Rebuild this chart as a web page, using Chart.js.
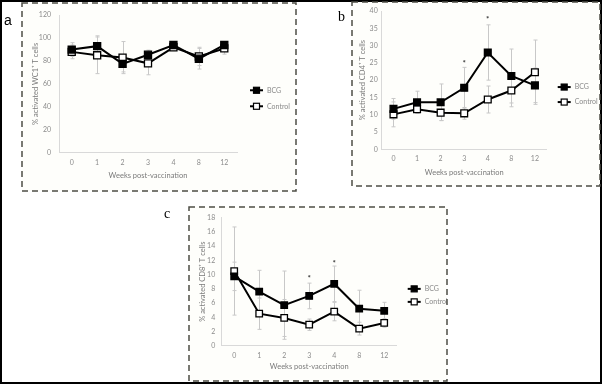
<!DOCTYPE html>
<html><head><meta charset="utf-8">
<script src="https://cdn.jsdelivr.net/npm/chart.js@4.4.1/dist/chart.umd.min.js"></script>
<style>
html,body{margin:0;padding:0;background:#fff;}
#frame{position:absolute;left:0;top:0;width:602px;height:384px;box-sizing:border-box;border:2px solid #000;}
.panel{position:absolute;background:#fefefb;}
.panel canvas{position:absolute;left:0;top:0;}
.lbl{position:absolute;font-size:14px;line-height:14px;color:#000;}
svg{position:absolute;left:0;top:0;pointer-events:none;}
</style></head><body>
<div id="frame"></div>
<div class="panel" style="left:22px;top:3px;width:274px;height:188px"><canvas id="ca" width="274" height="188"></canvas></div>
<div class="panel" style="left:352px;top:2px;width:248px;height:184px"><canvas id="cb" width="248" height="184"></canvas></div>
<div class="panel" style="left:189px;top:207px;width:258px;height:174px"><canvas id="cc" width="258" height="174"></canvas></div>
<svg width="602" height="384">
  <g fill="none" stroke="#4d4d45" stroke-width="1.5" stroke-dasharray="6 4">
    <rect x="22" y="3" width="274" height="188"/>
    <rect x="352" y="2" width="248" height="184"/>
    <rect x="189" y="207" width="258" height="174"/>
  </g>
</svg>
<div class="lbl" style="left:4px;top:13px;font-family:'Liberation Sans',sans-serif;">a</div>
<div class="lbl" style="left:338px;top:10px;font-family:'Liberation Serif',serif;">b</div>
<div class="lbl" style="left:164px;top:207px;font-family:'Liberation Serif',serif;">c</div>
<script>
// ---- data ----
const weeks = ['0', '1', '2', '3', '4', '8', '12'];
const seriesNames = ['BCG', 'Control'];
const xTitle = 'Weeks post-vaccination';

const wc1Title = '% activated WC1\u207A T cells';
const wc1BCG = [90, 93, 77.5, 85.5, 94, 82, 94];
const wc1Control = [88, 85, 83, 78, 92, 84, 91];
const wc1BCGErr = [6, 9, 7, 4, 2, 9, 2];
const wc1ControlErr = [6, 16, 14, 10, 2, 8, 5];
const wc1Sig = [null, null, null, null, null, null, null];

const cd4Title = '% activated CD4\u207A T cells';
const cd4BCG = [11.7, 13.6, 13.6, 17.8, 28.0, 21.2, 18.5];
const cd4Control = [10.1, 11.6, 10.6, 10.4, 14.4, 17.0, 22.3];
const cd4BCGErr = [3, 3.2, 5.3, 5.9, 8, 7.8, 5];
const cd4ControlErr = [3.6, 1.2, 2.3, 1.7, 3.9, 4.7, 9.3];
const cd4Sig = [null, null, null, 25.4, 38, null, null];

const cd8Title = '% activated CD8\u207A T cells';
const cd8BCG = [9.75, 7.6, 5.7, 7.0, 8.7, 5.2, 4.9];
const cd8Control = [10.5, 4.5, 3.9, 2.95, 4.8, 2.4, 3.2];
const cd8BCGErr = [2, 3, 4.8, 1.8, 2.5, 2.6, 1.2];
const cd8ControlErr = [6.2, 2.2, 2.6, 0.8, 1.3, 0.9, 0.6];
const cd8Sig = [null, null, null, 9.75, 11.85, null, null];

// ---- drawing ----
const FONT = 'Lato, "Open Sans", sans-serif';

const extras = {
  id: 'extras',
  beforeDatasetsDraw(chart) {
    const {ctx, scales: {y}} = chart;
    ctx.save();
    ctx.strokeStyle = '#c8c8c8';
    ctx.lineWidth = 1;
    chart.data.datasets.forEach((ds, di) => {
      const meta = chart.getDatasetMeta(di);
      ds.err.forEach((e, i) => {
        const px = Math.round(meta.data[i].x) + 0.5;
        const yt = y.getPixelForValue(ds.data[i] + e);
        const yb = y.getPixelForValue(ds.data[i] - e);
        ctx.beginPath();
        ctx.moveTo(px, yt); ctx.lineTo(px, yb);
        ctx.moveTo(px - 2, yt); ctx.lineTo(px + 2, yt);
        ctx.moveTo(px - 2, yb); ctx.lineTo(px + 2, yb);
        ctx.stroke();
      });
    });
    ctx.restore();
  },
  afterDraw(chart, args, opts) {
    const {ctx, chartArea, scales: {x, y}} = chart;
    ctx.save();
    // significance marks
    ctx.fillStyle = '#333';
    ctx.font = 'bold 8px ' + FONT;
    ctx.textAlign = 'center';
    ctx.textBaseline = 'middle';
    (opts.sig || []).forEach((v, i) => {
      if (v === null) return;
      ctx.fillText('*', x.getPixelForValue(i), y.getPixelForValue(v) + 2);
    });
    // legend
    const lx = chartArea.right + opts.legDx;
    chart.data.datasets.forEach((ds, di) => {
      const ly = chartArea.top + chartArea.height * opts.legY + di * opts.legGap;
      ctx.strokeStyle = '#000';
      ctx.lineWidth = 2;
      ctx.beginPath(); ctx.moveTo(lx, ly); ctx.lineTo(lx + 13, ly); ctx.stroke();
      const s = 6;
      ctx.fillStyle = ds.pointBackgroundColor;
      ctx.fillRect(lx + 6.5 - s / 2, ly - s / 2, s, s);
      ctx.lineWidth = 1.2;
      ctx.strokeRect(lx + 6.5 - s / 2, ly - s / 2, s, s);
      ctx.fillStyle = '#8a8a8a';
      ctx.font = '7px ' + FONT;
      ctx.textAlign = 'left';
      ctx.textBaseline = 'middle';
      ctx.fillText(ds.label, lx + 17, ly);
    });
    ctx.restore();
  }
};

function makeChart(id, p) {
  return new Chart(document.getElementById(id), {
    type: 'line',
    data: {
      labels: weeks,
      datasets: [
        {label: seriesNames[0], data: p.bcg, err: p.bcgErr, borderColor: '#000', borderWidth: 2,
         pointStyle: 'rect', pointRadius: p.pr, pointBackgroundColor: '#000', pointBorderColor: '#000',
         pointBorderWidth: 1.3, tension: 0},
        {label: seriesNames[1], data: p.ctl, err: p.ctlErr, borderColor: '#000', borderWidth: 2,
         pointStyle: 'rect', pointRadius: p.pr, pointBackgroundColor: '#fff', pointBorderColor: '#000',
         pointBorderWidth: 1.3, tension: 0}
      ]
    },
    options: {
      responsive: false,
      animation: false,
      devicePixelRatio: 1,
      layout: {padding: p.pad},
      plugins: {
        legend: {display: false},
        tooltip: {enabled: false},
        extras: {sig: p.sig, legDx: p.legDx, legY: p.legY, legGap: p.legGap}
      },
      scales: {
        x: {
          offset: true,
          grid: {display: false, drawTicks: false},
          border: {color: '#d9d9d9', width: 1},
          ticks: {color: '#8c8c8c', font: {size: 7, family: FONT}, padding: p.xTickPad, maxRotation: 0},
          title: {display: true, text: xTitle, color: '#7a7a7a', font: {size: 7.5, family: FONT},
                  padding: {top: 0, bottom: p.xTitlePad}},
          afterFit(s) { s.height = p.xH; }
        },
        y: {
          min: p.min, max: p.max,
          grid: {display: false, drawTicks: false},
          border: {color: '#d9d9d9', width: 1},
          ticks: {stepSize: p.step, color: '#8c8c8c', font: {size: 7, family: FONT}, padding: p.yTickPad},
          title: {display: true, text: p.yTitle, color: '#7a7a7a', font: {size: 7.5, family: FONT},
                  padding: {top: p.yTitlePad, bottom: 0}},
          afterFit(s) { s.width = p.yW; }
        }
      }
    },
    plugins: [extras]
  });
}

makeChart('ca', {bcg: wc1BCG, ctl: wc1Control, bcgErr: wc1BCGErr, ctlErr: wc1ControlErr, sig: wc1Sig,
  yTitle: wc1Title, min: 0, max: 120, step: 20, pr: 5,
  pad: {left: 0, top: 9.3, right: 59, bottom: 0}, yW: 37, xH: 38.3,
  xTickPad: 6, xTitlePad: 11, yTickPad: 8, yTitlePad: 9.5,
  legDx: 13, legY: 0.546, legGap: 16});

makeChart('cb', {bcg: cd4BCG, ctl: cd4Control, bcgErr: cd4BCGErr, ctlErr: cd4ControlErr, sig: cd4Sig,
  yTitle: cd4Title, min: 0, max: 40, step: 5, pr: 4.8,
  pad: {left: 0, top: 9, right: 53.3, bottom: 0}, yW: 29.7, xH: 36.7,
  xTickPad: 5.5, xTitlePad: 9.2, yTickPad: 4, yTitlePad: 6.5,
  legDx: 11, legY: 0.55, legGap: 15});

makeChart('cc', {bcg: cd8BCG, ctl: cd8Control, bcgErr: cd8BCGErr, ctlErr: cd8ControlErr, sig: cd8Sig,
  yTitle: cd8Title, min: 0, max: 18, step: 2, pr: 4.6,
  pad: {left: 0, top: 8.7, right: 50.3, bottom: 0}, yW: 32.7, xH: 35.3,
  xTickPad: 5.5, xTitlePad: 9.5, yTickPad: 6.5, yTitlePad: 9.5,
  legDx: 11, legY: 0.556, legGap: 13});
</script>
</body></html>
